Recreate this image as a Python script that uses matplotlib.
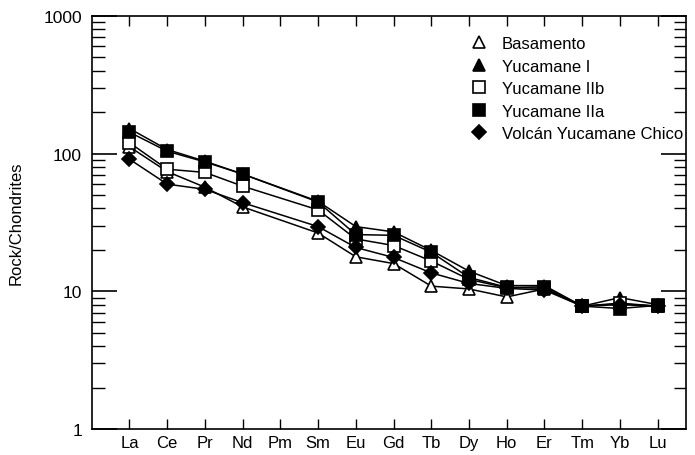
import matplotlib
matplotlib.use("Agg")
import matplotlib.pyplot as plt
from matplotlib.ticker import FixedLocator, LogLocator, NullFormatter

plt.rcParams['font.family'] = ['Liberation Sans', 'DejaVu Sans']

# elementos de tierras raras (Pm sin datos)
elements = ["La", "Ce", "Pr", "Nd", "Pm", "Sm", "Eu", "Gd", "Tb", "Dy", "Ho", "Er", "Tm", "Yb", "Lu"]
nan = float("nan")

basamento = [112, 74, 57, 41, nan, 26.5, 17.8, 15.9, 10.9, 10.4, 9.1, 10.4, 7.8, 8.1, 7.8]
yucamane_i = [152, 107, 88, 71, nan, 45, 29.5, 27, 19.8, 14, 11, 11, 7.8, 9.0, 8.0]
yucamane_iib = [120, 77, 73, 58, nan, 39, 24, 21.5, 16.6, 12.2, 10.6, 10.8, 7.8, 8.2, 7.8]
yucamane_iia = [143, 104, 87, 71, nan, 44.5, 25.8, 25.5, 19.2, 12.6, 10.7, 10.5, 7.8, 7.5, 7.9]
chico = [91, 60, 55, 44, nan, 29.5, 20.8, 17.6, 13.6, 11.4, 10.5, 10.2, 7.8, 8.0, 7.8]

series = [
    ("Basamento", basamento, "^", "white"),
    ("Yucamane I", yucamane_i, "^", "black"),
    ("Yucamane IIb", yucamane_iib, "s", "white"),
    ("Yucamane IIa", yucamane_iia, "s", "black"),
    ("Volcán Yucamane Chico", chico, "D", "black"),
]

fig = plt.figure(figsize=(6.95, 4.56), dpi=100)
ax = fig.add_axes([0.132, 0.057, 0.855, 0.906])

x = list(range(len(elements)))
for label, vals, mk, fc in series:
    xs = [i for i, v in zip(x, vals) if v == v]
    ys = [v for v in vals if v == v]
    ax.plot(xs, ys, color="black", lw=1.1, zorder=2)
    ms = 7 if mk == "D" else 8.5
    ax.plot(xs, ys, ls="none", marker=mk, ms=ms, mfc=fc, mec="black", mew=1.2,
            zorder=3, label=label)

ax.set_yscale("log")
ax.set_ylim(1, 1000)
ax.set_xlim(-1.0, 14.75)
ax.set_xticks(x)
ax.set_xticklabels(elements, fontsize=12)
ax.yaxis.set_major_locator(FixedLocator([1, 10, 100, 1000]))
ax.set_yticklabels(["1", "10", "100", "1000"], fontsize=12.5)
ax.yaxis.set_minor_locator(LogLocator(base=10, subs=range(2, 10)))
ax.yaxis.set_minor_formatter(NullFormatter())

ax.tick_params(axis="y", which="major", direction="in", length=18, width=1.2,
               left=True, right=True, pad=7)
ax.tick_params(axis="y", which="minor", direction="in", length=9, width=1.0,
               left=True, right=True)
ax.tick_params(axis="x", which="major", direction="in", length=7, width=1.0,
               top=True, bottom=True, pad=4)
for s in ax.spines.values():
    s.set_linewidth(1.2)

ax.set_ylabel("Rock/Chondrites", fontsize=12, labelpad=14)

leg = ax.legend(loc="upper right", bbox_to_anchor=(1.012, 0.975), frameon=False,
                fontsize=12, handletextpad=0.9, labelspacing=0.45,
                handlelength=1.0, borderaxespad=0.2)

fig.savefig("out.png", dpi=100)
plt.close(fig)
